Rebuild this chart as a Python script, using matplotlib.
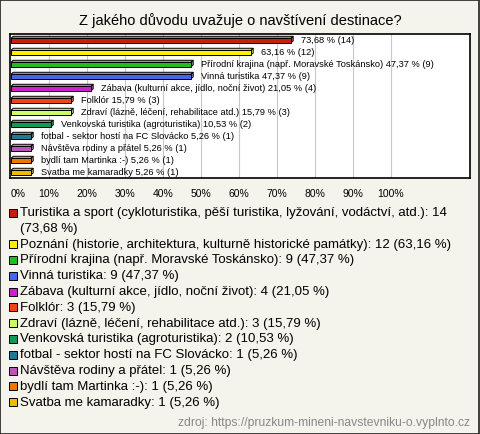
import matplotlib.pyplot as plt
from matplotlib.patches import Polygon, Rectangle
from matplotlib.colors import to_rgb

plt.rcParams['font.family'] = ['Liberation Sans', 'DejaVu Sans']

title = "Z jakého důvodu uvažuje o navštívení destinace?"
source = "zdroj: https://pruzkum-mineni-navstevniku-o.vyplnto.cz"

labels = [
    "Turistika a sport (cykloturistika, pěší turistika, lyžování, vodáctví, atd.)",
    "Poznání (historie, architektura, kulturně historické památky)",
    "Přírodní krajina (např. Moravské Toskánsko)",
    "Vinná turistika",
    "Zábava (kulturní akce, jídlo, noční život)",
    "Folklór",
    "Zdraví (lázně, léčení, rehabilitace atd.)",
    "Venkovská turistika (agroturistika)",
    "fotbal - sektor hostí na FC Slovácko",
    "Návštěva rodiny a přátel",
    "bydlí tam Martinka :-)",
    "Svatba me kamaradky",
]
counts = [14, 12, 9, 9, 4, 3, 3, 2, 1, 1, 1, 1]
percents = [73.68, 63.16, 47.37, 47.37, 21.05, 15.79, 15.79, 10.53, 5.26, 5.26, 5.26, 5.26]
colors = ["#c42010", "#ffee00", "#22bb22", "#4466ee", "#cc22cc", "#ee4418",
          "#ccff66", "#119955", "#227799", "#bb55bb", "#ee7700", "#eebb00"]
x_ticks = [0, 10, 20, 30, 40, 50, 60, 70, 80, 90, 100]

BG = "#f4f3ec"


def fmt(p):
    return ("%.2f" % p).replace(".", ",") + " %"


def lighter(c, f=0.45):
    r, g, b = to_rgb(c)
    return (r + (1 - r) * f, g + (1 - g) * f, b + (1 - b) * f)


fig = plt.figure(figsize=(4.8, 4.35), dpi=100, facecolor=BG)
fig.patches.append(Rectangle((0.001, 0.001), 0.997, 0.997, transform=fig.transFigure,
                             facecolor="none", edgecolor="#222222", lw=1.2))
fig.text(0.5, 1 - 20.5 / 435, title, ha="center", va="center", fontsize=10.5)

ax = fig.add_axes([10 / 480, 1 - 179 / 435, 460 / 480, 144 / 435])
ax.set_facecolor("white")
px = 3.8  # pixels per percent
ax.set_xlim(-1 / px, 460 / px - 1 / px)
ax.set_ylim(len(labels) - 0.5, -0.5)
for s in ax.spines.values():
    s.set_linewidth(1.2)
for t in x_ticks[1:]:
    ax.axvline(t, color="#c8c8c8", lw=0.8, zorder=0)

h = 0.38
dx = 2.2 / px
dy = 0.17
for i, (p, c, col, lab) in enumerate(zip(percents, counts, colors, labels)):
    top = i - h / 2 + 0.05
    bot = top + h
    ax.add_patch(Polygon([(0, top), (dx, top - dy), (p + dx, top - dy), (p, top)],
                         closed=True, facecolor=lighter(col), edgecolor="black", lw=0.7))
    ax.add_patch(Polygon([(p, top), (p + dx, top - dy), (p + dx, bot - dy), (p, bot)],
                         closed=True, facecolor=lighter(col, 0.25), edgecolor="black", lw=0.7))
    ax.add_patch(Rectangle((0, top), p, h, facecolor=col, edgecolor="black", lw=0.7))
    txt = "%s (%d)" % (fmt(p), c)
    if p < 50:
        txt = lab + " " + txt
    ax.text(p + 10 / px, i - 0.08, txt, va="center", ha="left", fontsize=6.7)

ax.set_yticks([])
ax.set_xticks(x_ticks)
ax.set_xticklabels(["%d%%" % t for t in x_ticks], fontsize=7.5)
ax.tick_params(axis="x", length=0, pad=7)
ax.get_xticklabels()[0].set_horizontalalignment("left")

# legend
y0 = 213
step = 15.8
line = 0
for lab, c, p, col in zip(labels, counts, percents, colors):
    y = 1 - (y0 + step * line) / 435
    fig.patches.append(Rectangle((9 / 480, y - 4.5 / 435), 8 / 480, 8 / 435,
                                 transform=fig.transFigure, facecolor=col,
                                 edgecolor="black", lw=0.7))
    full = "%s: %d (%s)" % (lab, c, fmt(p))
    if len(full) > 80:
        fig.text(20 / 480, y, "%s: %d" % (lab, c), va="center", fontsize=9.5)
        line += 1
        y = 1 - (y0 + step * line) / 435
        fig.text(20 / 480, y, "(%s)" % fmt(p), va="center", fontsize=9.5)
    else:
        fig.text(20 / 480, y, full, va="center", fontsize=9.5)
    line += 1

fig.text(470 / 480, 1 - 423 / 435, source, ha="right", va="center",
         fontsize=8.7, color="#888888")

fig.savefig("out.png", dpi=100, facecolor=BG)
